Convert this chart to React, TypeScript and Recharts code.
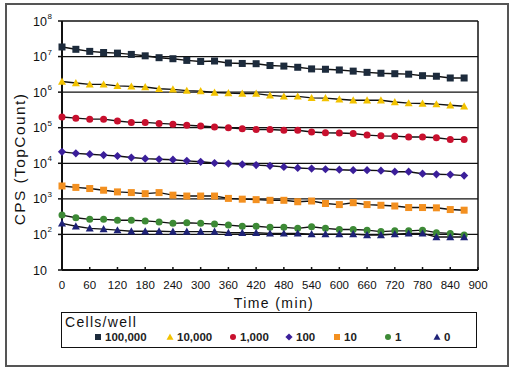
import React from 'react';
import { LineChart, Line, XAxis, YAxis, CartesianGrid, ReferenceLine } from 'recharts';

const FONT = '"Liberation Sans", Arial, Helvetica, sans-serif';

const times = [0, 30, 60, 90, 120, 150, 180, 210, 240, 270, 300, 330, 360, 390, 420, 450, 480, 510, 540, 570, 600, 630, 660, 690, 720, 750, 780, 810, 840, 870];
const xTicks = [0, 60, 120, 180, 240, 300, 360, 420, 480, 540, 600, 660, 720, 780, 840, 900];
const yTicks = [10, 100, 1000, 10000, 100000, 1000000, 10000000, 100000000];

const cells100000 = [1.86e7, 1.6e7, 1.4e7, 1.3e7, 1.25e7, 1.15e7, 1.05e7, 9.3e6, 8.7e6, 7.8e6, 7.3e6, 7.5e6, 6.6e6, 6.4e6, 6.3e6, 5.6e6, 5.4e6, 5.0e6, 4.5e6, 4.4e6, 4.2e6, 3.9e6, 3.6e6, 3.4e6, 3.3e6, 3.2e6, 2.9e6, 2.8e6, 2.5e6, 2.5e6];
const cells10000 = [2.0e6, 1.8e6, 1.65e6, 1.65e6, 1.5e6, 1.45e6, 1.4e6, 1.25e6, 1.2e6, 1.1e6, 1.07e6, 9.8e5, 9.4e5, 9.1e5, 9.1e5, 8.1e5, 7.6e5, 7.6e5, 6.9e5, 6.8e5, 6.3e5, 5.9e5, 5.9e5, 5.9e5, 5.3e5, 4.9e5, 4.8e5, 4.6e5, 4.3e5, 4.0e5];
const cells1000 = [2.0e5, 1.86e5, 1.74e5, 1.74e5, 1.55e5, 1.41e5, 1.41e5, 1.32e5, 1.26e5, 1.17e5, 1.12e5, 1.05e5, 1.0e5, 9.3e4, 8.9e4, 8.9e4, 8.5e4, 8.5e4, 7.6e4, 7.2e4, 7.1e4, 6.9e4, 6.2e4, 5.9e4, 5.8e4, 5.5e4, 5.5e4, 5.2e4, 4.7e4, 4.7e4];
const cells100 = [2.1e4, 1.9e4, 1.8e4, 1.7e4, 1.6e4, 1.45e4, 1.35e4, 1.3e4, 1.26e4, 1.17e4, 1.1e4, 1.02e4, 9.8e3, 9.3e3, 8.9e3, 8.5e3, 7.9e3, 7.4e3, 7.1e3, 6.8e3, 6.6e3, 6.4e3, 6.4e3, 6.2e3, 5.8e3, 5.8e3, 5.1e3, 4.9e3, 4.8e3, 4.5e3];
const cells10 = [2300, 2100, 1950, 1750, 1570, 1500, 1400, 1500, 1270, 1200, 1200, 1200, 1030, 980, 950, 910, 910, 830, 870, 740, 690, 780, 690, 660, 630, 570, 570, 560, 500, 480];
const cells1 = [350, 295, 265, 265, 250, 250, 240, 225, 205, 212, 205, 195, 183, 170, 170, 158, 158, 148, 165, 148, 138, 138, 132, 120, 126, 126, 132, 112, 107, 96];
const cells0 = [205, 170, 148, 141, 132, 123, 123, 123, 120, 120, 120, 120, 112, 112, 112, 107, 107, 107, 102, 102, 102, 102, 96, 96, 102, 107, 107, 85, 85, 85];

const seriesNames = ['100,000', '10,000', '1,000', '100', '10', '1', '0'];
const seriesKeys = ['c100000', 'c10000', 'c1000', 'c100', 'c10', 'c1', 'c0'];
const seriesValues = [cells100000, cells10000, cells1000, cells100, cells10, cells1, cells0];
const seriesColors = ['#1d2b3c', '#f2c200', '#c8102e', '#3b1f9a', '#f39020', '#3d8a36', '#1e2277'];
const seriesShapes = ['square', 'triangle', 'circle', 'diamond', 'square', 'circle', 'triangle'];

const data = times.map((t, i) => {
  const row: any = { t };
  seriesKeys.forEach((k, s) => { row[k] = seriesValues[s][i]; });
  return row;
});

function Marker({ shape, color, cx, cy, s }: any) {
  if (shape === 'square') return <rect x={cx - s / 2} y={cy - s / 2} width={s} height={s} fill={color} />;
  if (shape === 'circle') return <circle cx={cx} cy={cy} r={s / 2} fill={color} />;
  if (shape === 'diamond') {
    const h = s / 2 + 0.6;
    return <polygon points={`${cx},${cy - h} ${cx + h},${cy} ${cx},${cy + h} ${cx - h},${cy}`} fill={color} />;
  }
  const h = s / 2 + 0.5;
  return <polygon points={`${cx},${cy - h} ${cx + h},${cy + h * 0.8} ${cx - h},${cy + h * 0.8}`} fill={color} />;
}

const makeDot = (shape: string, color: string) => (props: any) => {
  const { cx, cy, index } = props;
  if (cx == null || cy == null) return <g key={index} />;
  return <g key={index}><Marker shape={shape} color={color} cx={cx} cy={cy} s={7} /></g>;
};

const YTick = (props: any) => {
  const { x, y, payload } = props;
  const exp = Math.round(Math.log10(payload.value));
  return (
    <g>
      <text x={x - 9} y={y + 4.5} textAnchor="end" fontSize={12.5} fontFamily={FONT} fill="#111">10</text>
      {exp > 1 && (
        <text x={x - 8.5} y={y - 2} textAnchor="start" fontSize={8} fontFamily={FONT} fill="#111">{exp}</text>
      )}
    </g>
  );
};

const XTick = (props: any) => {
  const { x, y, payload } = props;
  return (
    <g>
      <line x1={x} x2={x} y1={y - 3} y2={y} stroke="#111" strokeWidth={1.5} />
      <text x={x} y={y + 19} textAnchor="middle" fontSize={11.5} fontFamily={FONT} fill="#111">{payload.value}</text>
    </g>
  );
};

export default function App() {
  return (
    <div style={{ position: 'absolute', left: 0, top: 0, width: 514, height: 374, background: '#fff', fontFamily: FONT }}>
      <div style={{ position: 'absolute', left: 5, top: 3, width: 500, height: 360, border: '2px solid #555' }} />
      <div style={{ position: 'absolute', left: 0, top: 0 }}>
        <LineChart width={514} height={374} data={data} margin={{ top: 21, right: 36, bottom: 74, left: 12 }}>
          <CartesianGrid horizontal vertical={false} stroke="#111" strokeWidth={1.3} />
          <XAxis
            dataKey="t"
            type="number"
            domain={[0, 900]}
            ticks={xTicks}
            interval={0}
            tickSize={0}
            tickMargin={0}
            tick={<XTick />}
            axisLine={{ stroke: '#111', strokeWidth: 2 }}
            height={30}
            label={(p: any) => (
              <text x={274} y={308} textAnchor="middle" fontSize={14} letterSpacing={1.4} fontFamily={FONT} fill="#111">Time (min)</text>
            )}
          />
          <YAxis
            scale="log"
            domain={[10, 100000000]}
            ticks={yTicks}
            interval={0}
            allowDataOverflow
            width={50}
            tickSize={4}
            tickLine={{ stroke: '#111', strokeWidth: 1.5 }}
            tick={<YTick />}
            axisLine={{ stroke: '#111', strokeWidth: 2 }}
            label={(p: any) => (
              <text x={25} y={159} transform="rotate(-90, 25, 159)" textAnchor="middle" fontSize={15.5} letterSpacing={1.4} fontFamily={FONT} fill="#111">CPS (TopCount)</text>
            )}
          />
          <ReferenceLine x={900} stroke="#111" strokeWidth={1.5} />
          {seriesKeys.map((k, s) => (
            <Line
              key={k}
              dataKey={k}
              name={seriesNames[s]}
              stroke="#111"
              strokeWidth={1.4}
              dot={makeDot(seriesShapes[s], seriesColors[s])}
              activeDot={false}
              isAnimationActive={false}
            />
          ))}
        </LineChart>
      </div>
      <div style={{ position: 'absolute', left: 61, top: 312, width: 414, height: 34, border: '1.5px solid #111' }}>
        <div style={{ position: 'absolute', left: 3, top: 1, fontSize: 14, letterSpacing: 1.3, color: '#111', lineHeight: '16px' }}>Cells/well</div>
        {seriesNames.map((n, s) => {
          const left = [32, 104, 167, 223, 271, 322, 371][s];
          return (
            <div key={n} style={{ position: 'absolute', left, top: 17, height: 14, display: 'flex', alignItems: 'center' }}>
              <svg width={8} height={8} style={{ marginRight: 3 }}>
                <Marker shape={seriesShapes[s]} color={seriesColors[s]} cx={4} cy={4} s={6} />
              </svg>
              <span style={{ fontSize: 11.5, fontWeight: 'bold', color: '#222', lineHeight: '14px' }}>{n}</span>
            </div>
          );
        })}
      </div>
    </div>
  );
}
